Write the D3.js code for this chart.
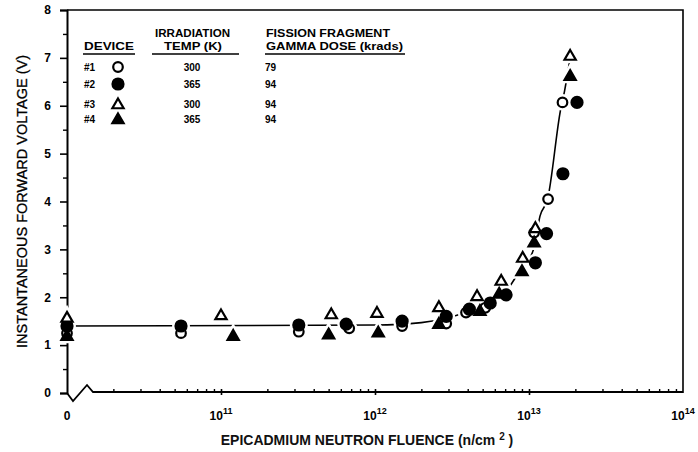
<!DOCTYPE html>
<html>
<head>
<meta charset="utf-8">
<script src="https://cdn.jsdelivr.net/npm/d3@7"></script>
<style>
  body { margin: 0; background: #fff; }
  svg { display: block; font-family: "Liberation Sans", Arial, sans-serif; }
</style>
</head>
<body>
<div id="vis-tag"></div>
<script>
// fluence 0 is plotted at the left edge of the log axis (1e10)
const ZERO = 1e10;

// device #1: open circle (300 K, 79 krads)
const dev1X = [ZERO, 5.5e10, 3.2e11, 6.8e11, 1.5e12, 2.9e12, 3.9e12, 5.2e12, 1.08e13, 1.33e13, 1.65e13];
const dev1Y = [1.25, 1.25, 1.28, 1.35, 1.4, 1.45, 1.68, 1.78, 3.35, 4.05, 6.07];
// device #2: filled circle (365 K, 94 krads)
const dev2X = [ZERO, 5.5e10, 3.2e11, 6.5e11, 1.5e12, 2.9e12, 4.1e12, 5.6e12, 7.1e12, 1.1e13, 1.3e13, 1.66e13, 2.05e13];
const dev2Y = [1.4, 1.4, 1.42, 1.44, 1.5, 1.6, 1.75, 1.88, 2.05, 2.72, 3.33, 4.58, 6.07];
// device #3: open triangle (300 K, 94 krads)
const dev3X = [ZERO, 1e11, 5.2e11, 1.03e12, 2.6e12, 4.6e12, 6.6e12, 9.1e12, 1.1e13, 1.85e13];
const dev3Y = [1.58, 1.63, 1.65, 1.68, 1.8, 2.03, 2.35, 2.83, 3.45, 7.05];
// device #4: filled triangle (365 K, 94 krads)
const dev4X = [ZERO, 1.2e11, 5e11, 1.05e12, 2.6e12, 4.8e12, 6.4e12, 9e12, 1.08e13, 1.85e13];
const dev4Y = [1.2, 1.2, 1.23, 1.27, 1.45, 1.72, 2.08, 2.55, 3.15, 6.63];

// hand-drawn trend curve
const fitX = [ZERO, 1e12, 2e12, 3e12, 4e12, 5e12, 7e12, 8.5e12, 1.07e13, 1.18e13, 1.32e13, 1.6e13, 1.7e13, 1.85e13];
const fitY = [1.4, 1.42, 1.47, 1.57, 1.7, 1.85, 2.1, 2.5, 3.0, 3.7, 4.05, 5.9, 6.3, 7.0];

// legend table
const devNames = ["#1", "#2", "#3", "#4"];
const devTemps = ["300", "365", "300", "365"];
const devDoses = ["79", "94", "94", "94"];

// tick labels
const yTicks = [0, 1, 2, 3, 4, 5, 6, 7, 8];
const xDecades = [1e11, 1e12, 1e13, 1e14];

const width = 698, height = 452;
const margin = { top: 10, right: 15, bottom: 59, left: 67 };

const svg = d3.select("#vis-tag").append("svg")
  .attr("width", width).attr("height", height);

const x = d3.scaleLog().domain([1e10, 1e14]).range([margin.left, width - margin.right]);
const y = d3.scaleLinear().domain([0, 8]).range([height - margin.bottom, margin.top]);

const x0 = x.range()[0], x1 = x.range()[1];
const y0 = y.range()[0], y1 = y.range()[1];

// frame: top and right
svg.append("path")
  .attr("d", `M${x0},${y1}H${x1}V${y0}`)
  .attr("fill", "none").attr("stroke", "#000").attr("stroke-width", 1.6);

// y axis
const yAxis = svg.append("g")
  .attr("transform", `translate(${x0},0)`)
  .call(d3.axisLeft(y).tickValues(yTicks).tickSize(7).tickPadding(9).tickFormat(d3.format("d")));
yAxis.select(".domain").attr("stroke-width", 2);
yAxis.selectAll(".tick line").attr("stroke-width", 1.6);
yAxis.selectAll("text").attr("font-size", 12).attr("font-weight", "bold").attr("fill", "#000");

svg.append("g")
  .attr("transform", `translate(${x0},0)`)
  .call(d3.axisLeft(y).tickValues(d3.range(0.5, 8, 1)).tickSize(4).tickFormat(""))
  .call(g => g.select(".domain").remove())
  .selectAll(".tick line").attr("stroke-width", 1.4);

// x axis with break near 0
const brk = 26;
svg.append("path")
  .attr("d", `M${x0},${y0}L${x0 + 6},${y0 + 8}L${x0 + 20},${y0 - 8}L${x0 + brk},${y0 - 1}H${x1}`)
  .attr("fill", "none").attr("stroke", "#000").attr("stroke-width", 1.8);

const minorX = [];
for (let e = 10; e < 14; e++) {
  for (let k = 2; k <= 9; k++) minorX.push(k * Math.pow(10, e));
}
svg.append("g")
  .attr("transform", `translate(0,${y0 - 1})`)
  .call(d3.axisBottom(x).tickValues(minorX.filter(v => x(v) > x0 + brk + 4)).tickSize(-3).tickFormat(""))
  .call(g => g.select(".domain").remove())
  .selectAll(".tick line").attr("stroke-width", 1.4);

svg.append("g")
  .attr("transform", `translate(0,${y0 + 2})`)
  .call(d3.axisBottom(x).tickValues(xDecades.slice(0, 3)).tickSize(-6).tickFormat(""))
  .call(g => g.select(".domain").remove())
  .selectAll(".tick line").attr("stroke-width", 1.6);

// x tick labels
svg.append("text")
  .attr("x", x(ZERO)).attr("y", y0 + 27)
  .attr("text-anchor", "middle").attr("font-size", 12).attr("font-weight", "bold")
  .text("0");
xDecades.forEach(d => {
  const t = svg.append("text")
    .attr("x", x(d)).attr("y", y0 + 27)
    .attr("text-anchor", "middle").attr("font-size", 12).attr("font-weight", "bold");
  t.append("tspan").text("10");
  t.append("tspan").attr("dy", -6).attr("font-size", 9).text(Math.round(Math.log10(d)));
});

// axis titles
const xt = svg.append("text")
  .attr("x", (x0 + x1) / 2 - 8).attr("y", height - 7)
  .attr("text-anchor", "middle").attr("font-size", 14).attr("font-weight", "bold")
  .attr("fill", "#111");
xt.append("tspan").text("EPICADMIUM NEUTRON FLUENCE (n/cm ");
xt.append("tspan").attr("dy", -5).attr("font-size", 10).text("2");
xt.append("tspan").attr("dy", 5).text(" )");

svg.append("text")
  .attr("transform", `translate(27,${(y0 + y1) / 2}) rotate(-90)`)
  .attr("text-anchor", "middle").attr("font-size", 14.5)
  .attr("fill", "#000").attr("stroke", "#000").attr("stroke-width", 0.3)
  .text("INSTANTANEOUS FORWARD VOLTAGE (V)");

// trend curve
const line = d3.line()
  .x((d, i) => x(fitX[i]))
  .y(d => y(d))
  .curve(d3.curveMonotoneX);
svg.append("path")
  .datum(fitY)
  .attr("d", line)
  .attr("fill", "none").attr("stroke", "#000").attr("stroke-width", 1.6);

// markers
const triPath = d3.symbol().type(d3.symbolTriangle).size(55)();
const series = [
  { xs: dev1X, ys: dev1Y, shape: "circle", filled: false },
  { xs: dev2X, ys: dev2Y, shape: "circle", filled: true },
  { xs: dev3X, ys: dev3Y, shape: "tri", filled: false },
  { xs: dev4X, ys: dev4Y, shape: "tri", filled: true }
];

function drawMarker(g, shape, filled, cx, cy, halo) {
  let m;
  if (shape === "circle") {
    m = g.append("circle").attr("cx", cx).attr("cy", cy).attr("r", filled ? 5.5 : 4.8);
  } else {
    m = g.append("path").attr("d", triPath).attr("transform", `translate(${cx},${cy + 1})`);
  }
  if (halo) {
    m.attr("fill", "#fff").attr("stroke", "#fff").attr("stroke-width", 7);
  } else {
    m.attr("fill", filled ? "#000" : "#fff").attr("stroke", "#000").attr("stroke-width", 2.2);
  }
}

const halos = svg.append("g");
const marks = svg.append("g");
series.forEach(s => {
  s.xs.forEach((xv, i) => drawMarker(halos, s.shape, s.filled, x(xv), y(s.ys[i]), true));
});
series.forEach(s => {
  s.xs.forEach((xv, i) => drawMarker(marks, s.shape, s.filled, x(xv), y(s.ys[i]), false));
});

// legend table
const lg = svg.append("g").attr("font-weight", "bold").attr("fill", "#000");
function head(txt, lx, ly, len) {
  lg.append("text").attr("x", lx).attr("y", ly).attr("font-size", 10.5)
    .attr("textLength", len).attr("lengthAdjust", "spacingAndGlyphs").text(txt);
}
head("DEVICE", 84, 50, 50);
head("IRRADIATION", 155, 37, 75);
head("TEMP (K)", 164, 50, 58);
head("FISSION FRAGMENT", 266, 37, 124);
head("GAMMA DOSE (krads)", 266, 50, 137);
[[83, 135], [152, 239], [265, 405]].forEach(u => {
  lg.append("line").attr("x1", u[0]).attr("x2", u[1]).attr("y1", 54).attr("y2", 54)
    .attr("stroke", "#000").attr("stroke-width", 1.5);
});
const rowY = [71, 88, 108, 123];
devNames.forEach((n, i) => {
  lg.append("text").attr("x", 84).attr("y", rowY[i]).attr("font-size", 10).text(n);
  lg.append("text").attr("x", 192).attr("y", rowY[i]).attr("font-size", 10)
    .attr("text-anchor", "middle").text(devTemps[i]);
  lg.append("text").attr("x", 265).attr("y", rowY[i]).attr("font-size", 10).text(devDoses[i]);
  drawMarker(lg, series[i].shape, series[i].filled, 118, rowY[i] - 4, false);
});
</script>
</body>
</html>
